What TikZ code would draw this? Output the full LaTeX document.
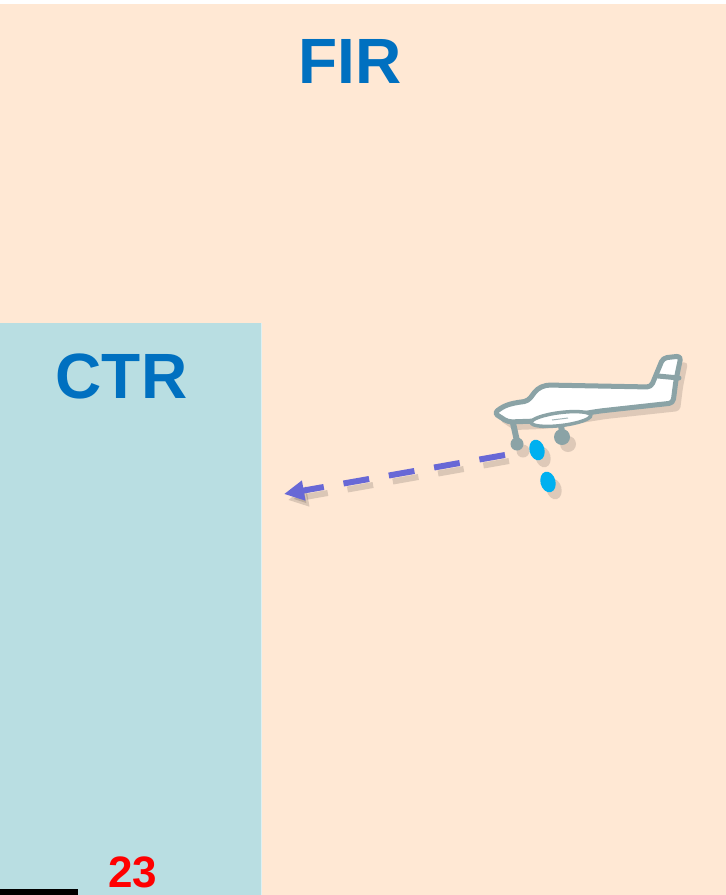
\documentclass[tikz,border=0pt]{standalone}
\usepackage{fontspec}
\setmainfont{Liberation Sans}
\usetikzlibrary{arrows.meta}
\definecolor{firbg}{RGB}{255,232,212}
\definecolor{ctrbg}{RGB}{185,222,226}
\definecolor{zonetext}{RGB}{0,112,192}
\definecolor{planegrey}{RGB}{139,163,166}
\definecolor{dropblue}{RGB}{0,176,240}
\definecolor{routeblue}{RGB}{104,104,214}
\begin{document}
\begin{tikzpicture}[x=1pt,y=-1pt,
  zonelabel/.style={font=\fontsize{64}{64}\selectfont\bfseries, text=zonetext, inner sep=0pt},
  pagenum/.style={font=\fontsize{44}{44}\selectfont\bfseries, text=red, inner sep=0pt},
  planeline/.style={draw=planegrey, line width=5pt, line join=round},
  gear/.style={draw=planegrey, line width=6pt, line cap=round},
  wheel/.style={fill=planegrey},
  drop/.style={fill=dropblue},
  shade/.style={fill=black, opacity=0.13},
  route/.style={draw=routeblue, line width=6pt, dash pattern=on 26pt off 20pt,
    -{Triangle[length=20pt,width=19pt]}}
]
\useasboundingbox (0,0) rectangle (726,895);

% airspace areas
\fill[white] (0,0) rectangle (726,895);
\fill[firbg] (0,4) rectangle (726,895);
\fill[ctrbg] (0,323) rectangle (261,895);
\draw[white!55!ctrbg, line width=1pt] (261,323) -- (261,895);
\fill[black] (0,889) rectangle (78,895);

% labels
\node[zonelabel] (fir) at (350,61.5) {FIR};
\node[zonelabel] (ctr) at (121.5,376) {CTR};
\node[pagenum] (pagenumber) at (133,872) {23};

% route of the aircraft
\coordinate (routestart) at (505,455);
\coordinate (routeend) at (284,494);
\draw[route, draw=black, opacity=0.14, transform canvas={shift={(4pt,-6pt)}}]
  (routestart) -- (routeend);
\draw[route] (routestart) -- (routeend);

% aircraft shadow
\begin{scope}[shift={(6,7)}]
  \fill[shade, rounded corners=4pt]
    (493,413) -- (504,405) -- (514,402) -- (528,400) -- (537,388) -- (546,384)
    -- (650,386) -- (662,357) -- (682,355) -- (677,380) -- (674,404)
    -- (600,412) -- (537,422) -- (508,423) -- cycle;
  \fill[shade] (517,444) circle (6.5);
  \fill[shade] (562,437) circle (8);
  \fill[shade, rotate around={15:(537,450)}] (537,450) ellipse (7.5 and 10.5);
  \fill[shade, rotate around={15:(548,482)}] (548,482) ellipse (7.5 and 10.5);
\end{scope}

% landing gear struts
\draw[gear] (513,423) -- (517,441);
\draw[gear] (561,423) -- (562,434);

% fuselage and fin
\filldraw[planeline, fill=white, rounded corners=4pt]
  (494,413) -- (504,406) -- (514,403) -- (528,401) -- (537,389) -- (546,385)
  -- (651,387) -- (663,358) -- (681,356) -- (676,380) -- (673,403)
  -- (600,411) -- (537,421) -- (508,422) -- cycle;
\fill[white] (665,362) -- (677,361) -- (674,371) -- (662,372) -- cycle;
\draw[planegrey, line width=5pt, line cap=round] (658,376) -- (679,378);

% wing
\filldraw[draw=planegrey, fill=white, line width=3.5pt, rotate around={7:(561,419)}]
  (561,419) ellipse (30 and 6.5);
\draw[planegrey!80, line width=1pt] (552,420) -- (568,418);

% wheels
\fill[wheel] (517,444) circle (6.5);
\fill[wheel] (562,437) circle (8);

% drops
\fill[drop, rotate around={15:(537,450)}] (537,450) ellipse (7.5 and 10.5);
\fill[drop, rotate around={15:(548,482)}] (548,482) ellipse (7.5 and 10.5);
\end{tikzpicture}
\end{document}
